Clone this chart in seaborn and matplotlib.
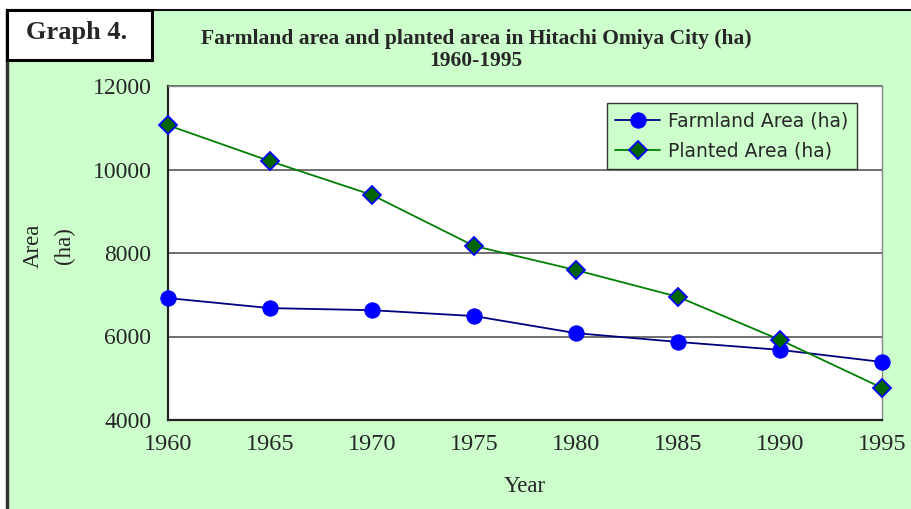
import matplotlib
matplotlib.use("Agg")
import matplotlib.pyplot as plt
import seaborn as sns
import pandas as pd
from matplotlib.patches import Rectangle
from matplotlib.lines import Line2D

years = [1960, 1965, 1970, 1975, 1980, 1985, 1990, 1995]
farmland = [6920, 6680, 6630, 6490, 6080, 5870, 5680, 5390]
planted = [11060, 10200, 9390, 8170, 7590, 6950, 5920, 4770]
series_names = ["Farmland Area (ha)", "Planted Area (ha)"]
y_ticks = [4000, 6000, 8000, 10000, 12000]

sns.set_style("white")
plt.rcParams['font.family'] = ['Liberation Serif', 'DejaVu Serif']

BG = "#CCFFCC"
fig = plt.figure(figsize=(9.11, 5.09), dpi=100)
fig.patch.set_facecolor("white")

# green panel with left and top borders
fig.add_artist(Rectangle((7/911, 0), 1, 1 - 10/509, transform=fig.transFigure,
                         facecolor=BG, edgecolor="none", zorder=0))
fig.add_artist(Line2D([7/911, 7/911], [0, 1 - 10/509], transform=fig.transFigure,
                      color="#333333", lw=2.5, zorder=1))
fig.add_artist(Line2D([7/911, 1], [1 - 10/509, 1 - 10/509], transform=fig.transFigure,
                      color="#111111", lw=1.5, zorder=1))

ax = fig.add_axes([168/911, 1 - 420/509, (882 - 168)/911, (420 - 86)/509])
ax.set_facecolor("white")

df = pd.DataFrame({"Year": years, "Farmland": farmland, "Planted": planted})
sns.lineplot(data=df, x="Year", y="Farmland", ax=ax, color="#000080", lw=1.3,
             marker="o", markersize=11, markerfacecolor="#0000FF", markeredgecolor="#0000FF",
             label=series_names[0], zorder=3)
sns.lineplot(data=df, x="Year", y="Planted", ax=ax, color="#008000", lw=1.3,
             marker="D", markersize=9, markerfacecolor="#006400", markeredgecolor="#0000FF",
             markeredgewidth=1.3, label=series_names[1], zorder=3)

ax.set_xlim(1960, 1995)
ax.set_ylim(4000, 12000)
ax.set_xticks(years)
ax.set_yticks(y_ticks)
ax.set_xticklabels([str(y) for y in years], fontsize=17.5)
ax.set_yticklabels([str(v) for v in y_ticks], fontsize=17)
ax.tick_params(axis="x", direction="in", length=6, pad=10, color="#333333", width=1)
ax.tick_params(axis="y", direction="out", length=4, pad=8, color="#333333", width=1)
for v in [6000, 8000, 10000, 12000]:
    ax.axhline(v, color="#555555", lw=1.2, zorder=1)
ax.set_xlabel("")
ax.set_ylabel("")
for s in ["left", "bottom"]:
    ax.spines[s].set_color("#222222")
    ax.spines[s].set_linewidth(1.6)
for s in ["top", "right"]:
    ax.spines[s].set_color("#888888")
    ax.spines[s].set_linewidth(1.0)
for l in ax.get_lines():
    l.set_clip_on(False)

leg = ax.legend(loc="upper right", bbox_to_anchor=(866/911, 1 - 94/509), bbox_transform=fig.transFigure,
                frameon=True, fancybox=False, facecolor=BG, edgecolor="#333333", framealpha=1,
                prop={"family": ["DejaVu Sans"], "size": 13.5}, handlelength=2.4, borderpad=0.45,
                labelspacing=0.55, handletextpad=0.4)
leg.get_frame().set_linewidth(1.0)

fig.text(525/911, 1 - 486/509, "Year", fontsize=16.5, ha="center", va="center")
fig.text(33/911, 1 - 246/509, "Area", fontsize=16.5, ha="center", va="center", rotation=90)
fig.text(64/911, 1 - 246/509, "(ha)", fontsize=16.5, ha="center", va="center", rotation=90)

fig.text(476/911, 1 - 39/509, "Farmland area and planted area in Hitachi Omiya City (ha)",
         fontsize=15.5, fontweight="bold", ha="center", va="center")
fig.text(476/911, 1 - 61/509, "1960-1995", fontsize=15.5, fontweight="bold", ha="center", va="center")

fig.add_artist(Rectangle((7/911, 1 - 60/509), (152 - 7)/911, (60 - 10)/509, transform=fig.transFigure,
                         facecolor="white", edgecolor="black", linewidth=2.2, zorder=5))
fig.text(77/911, 1 - 32/509, "Graph 4.", fontsize=19, fontweight="bold", ha="center", va="center",
         zorder=6)

fig.savefig("out.png", dpi=100, facecolor=fig.get_facecolor())
